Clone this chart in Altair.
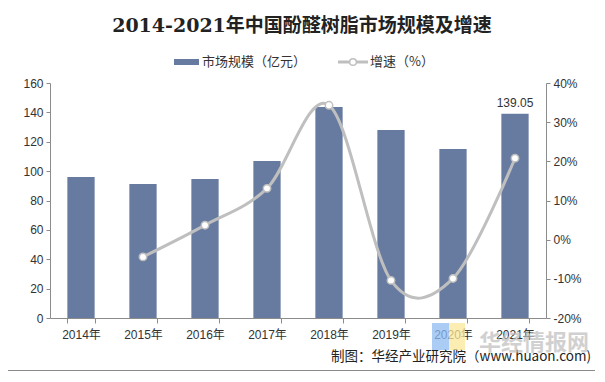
import altair as alt
import pandas as pd

years = ["2014年", "2015年", "2016年", "2017年", "2018年", "2019年", "2020年", "2021年"]
market = [96.0, 91.2, 94.6, 106.9, 143.6, 128.0, 115.0, 139.05]
growth = [None, -4.4, 3.7, 13.1, 34.3, -10.4, -9.9, 20.8]

df = pd.DataFrame({"year": years, "market": market, "growth": growth})
df_line = df.dropna()
df_last = df.iloc[[-1]].copy()
df_last["label"] = ["139.05"]
one = pd.DataFrame({"a": [0]})

FONT = "Liberation Sans, Noto Sans CJK SC"
CJK = "Noto Sans CJK SC"
BAR = "#677BA1"
LINE = "#BFBFBF"
AX = "#8C8C8C"

W, H = 496, 235

xenc = alt.X("year:N", sort=years,
             scale=alt.Scale(paddingInner=0.56, paddingOuter=0.28),
             axis=alt.Axis(title=None, labelAngle=0, labelFont=FONT, labelFontSize=12,
                           labelColor="#333333", labelPadding=6, tickBand="extent",
                           tickSize=5, tickColor=AX, domainColor=AX, labelFlush=False,
                           labelOverlap=False))

yl = alt.Y("market:Q", scale=alt.Scale(domain=[0, 160], nice=False),
           axis=alt.Axis(title=None, values=list(range(0, 161, 20)), grid=False,
                         labelFont=FONT, labelFontSize=12, labelColor="#333333",
                         tickSize=4, tickColor=AX, domainColor=AX, labelPadding=3,
                         labelOverlap=False, labelFlush=False))

yr = alt.Y("growth:Q", scale=alt.Scale(domain=[-20, 40], nice=False),
           axis=alt.Axis(title=None, orient="right", values=list(range(-20, 41, 10)), grid=False,
                         labelExpr="datum.value + '%'", labelFont=FONT, labelFontSize=12,
                         labelColor="#333333", tickSize=4, tickColor=AX, domainColor=AX,
                         labelPadding=3, labelOverlap=False, labelFlush=False))

bars = alt.Chart(df).mark_bar(color=BAR).encode(x=xenc, y=yl)
label = alt.Chart(df_last).mark_text(font=FONT, fontSize=12, color="#333333", dy=-11).encode(
    x=xenc, y=yl, text="label:N")
left = alt.layer(bars, label)

line = alt.Chart(df_line).mark_line(color=LINE, strokeWidth=3, interpolate="cardinal").encode(
    x=xenc, y=yr)
pts = alt.Chart(df_line).mark_point(filled=True, fill="white", stroke=LINE, strokeWidth=1.5,
                                    size=55, opacity=1).encode(x=xenc, y=yr)
right = alt.layer(line, pts)

base = alt.Chart(one)
border = base.mark_rect(fill=None, filled=False, stroke="#8A8A8A", strokeWidth=1).encode(
    x=alt.value(-43.5), x2=alt.value(545.5), y=alt.value(-78.5), y2=alt.value(287.5))
title = base.mark_text(text="2014-2021年中国酚醛树脂市场规模及增速", font="DejaVu Serif, " + CJK,
                       fontSize=19, fontWeight="bold", color="#222222", align="center",
                       baseline="middle").encode(x=alt.value(252), y=alt.value(-57))
leg_bar = base.mark_rect(color=BAR).encode(
    x=alt.value(124), x2=alt.value(149), y=alt.value(-24), y2=alt.value(-18))
leg_t1 = base.mark_text(text="市场规模（亿元）", font=CJK, fontSize=13, color="#333333",
                        align="left", baseline="middle").encode(x=alt.value(152), y=alt.value(-21))
leg_line = base.mark_rule(color=LINE, strokeWidth=3).encode(
    x=alt.value(288), x2=alt.value(318), y=alt.value(-21))
leg_pt = base.mark_point(filled=True, fill="white", stroke=LINE, strokeWidth=1.5, size=45,
                         opacity=1).encode(x=alt.value(303), y=alt.value(-21))
leg_t2 = base.mark_text(text="增速（%）", font=CJK, fontSize=13, color="#333333",
                        align="left", baseline="middle").encode(x=alt.value(320), y=alt.value(-21))
src = base.mark_text(text="制图：华经产业研究院（www.huaon.com)", font=CJK, fontSize=13.5,
                     color="#222222", align="right", baseline="middle").encode(
    x=alt.value(541), y=alt.value(274))
logo_b = base.mark_rect(color="#8EBBF2", opacity=0.75).encode(
    x=alt.value(382), x2=alt.value(399), y=alt.value(240), y2=alt.value(267))
logo_y = base.mark_rect(color="#FBE79A", opacity=0.75).encode(
    x=alt.value(399), x2=alt.value(415), y=alt.value(240), y2=alt.value(267))
wm = base.mark_text(text="华经情报网", font=CJK, fontSize=22, fontWeight="bold",
                    color="#BDBDBD", opacity=0.7, align="center", baseline="middle").encode(
    x=alt.value(484), y=alt.value(260))

chart = alt.layer(
    left, right, border, title, leg_bar, leg_t1, leg_line, leg_pt, leg_t2, src, logo_b, logo_y, wm
).resolve_scale(y="independent").properties(
    width=W, height=H,
    autosize=alt.AutoSizeParams(type="none"),
    padding={"left": 42, "top": 75, "right": 49, "bottom": 54},
    background="white",
).configure_view(stroke=None)

chart.save("out.html", embed_options={"renderer": "svg", "actions": False})
